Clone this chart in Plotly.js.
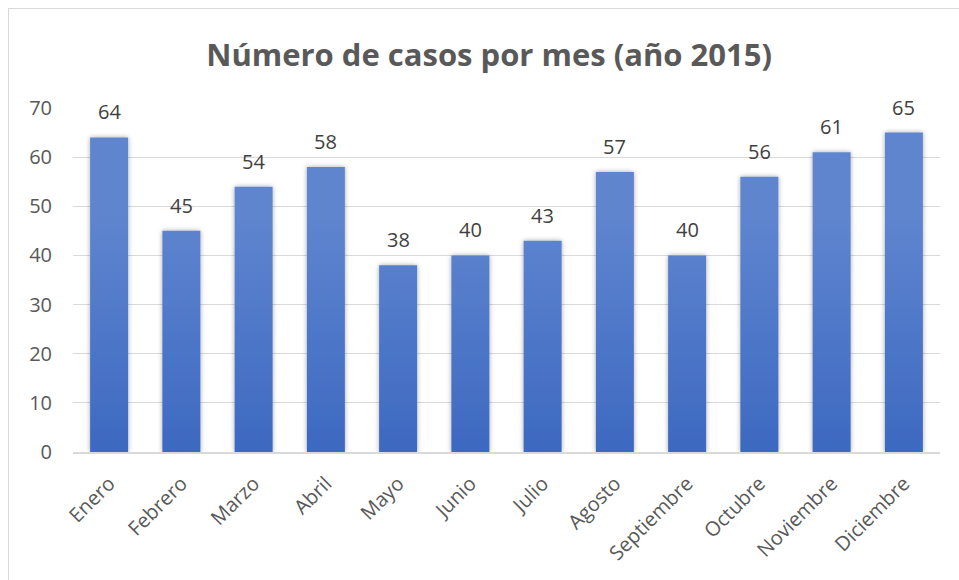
<!DOCTYPE html>
<html>
<head>
<meta charset="utf-8">
<script src="https://cdn.plot.ly/plotly-3.0.1.min.js"></script>
<style>
  html, body { margin: 0; padding: 0; background: #fff; }
  #wrap { position: relative; width: 959px; height: 580px; overflow: hidden; }
  #frame { position: absolute; left: 8px; top: 8px; width: 1000px; height: 700px; border: 1px solid #d9d9d9; box-sizing: border-box; pointer-events: none; }
  #chart { width: 959px; height: 580px; }
</style>
</head>
<body>
<div id="wrap">
  <div id="chart"></div>
  <div id="frame"></div>
</div>
<script>
const months = ["Enero","Febrero","Marzo","Abril","Mayo","Junio","Julio","Agosto","Septiembre","Octubre","Noviembre","Diciembre"];
const cases = [64, 45, 54, 58, 38, 40, 43, 57, 40, 56, 61, 65];
const yTicks = [0, 10, 20, 30, 40, 50, 60, 70];

const labelFont = "'Open Sans', 'Noto Sans', sans-serif";

const trace = {
  type: "bar",
  x: months,
  y: cases,
  marker: { color: "#4472C4", line: { width: 0 } },
  hoverinfo: "x+y"
};

const valueLabels = months.map((m, i) => ({
  x: m, y: cases[i], xref: "x", yref: "y",
  text: String(cases[i]),
  showarrow: false,
  yanchor: "bottom", yshift: 10,
  font: { family: labelFont, size: 20, color: "#404040" }
}));

const layout = {
  width: 959, height: 580,
  margin: { l: 73, r: 19, t: 108, b: 128 },
  paper_bgcolor: "#ffffff",
  plot_bgcolor: "#ffffff",
  bargap: 0.474,
  showlegend: false,
  annotations: valueLabels,
  title: {
    text: "<b>Número de casos por mes (año 2015)</b>",
    x: 0.51, xanchor: "center",
    y: 0.905, yanchor: "middle",
    font: { family: labelFont, size: 31, color: "#595959" }
  },
  xaxis: {
    type: "category",
    tickangle: -45,
    tickfont: { family: labelFont, size: 20, color: "#595959" },
    showgrid: false,
    showline: true, linecolor: "#d9d9d9", linewidth: 2,
    ticks: "", ticklabelstandoff: 10
  },
  yaxis: {
    range: [0, 70],
    tickvals: yTicks,
    ticktext: yTicks.map(String),
    tickfont: { family: labelFont, size: 20, color: "#595959" },
    showgrid: true, gridcolor: "#d9d9d9", gridwidth: 1,
    zeroline: false, showline: false, ticks: "",
    ticklabelstandoff: 20
  }
};

Plotly.newPlot("chart", [trace], layout, { displayModeBar: false, staticPlot: true }).then(gd => {
  const svg = gd.querySelector("svg.main-svg");
  const ns = "http://www.w3.org/2000/svg";
  let defs = svg.querySelector("defs");
  if (!defs) { defs = document.createElementNS(ns, "defs"); svg.insertBefore(defs, svg.firstChild); }
  const grad = document.createElementNS(ns, "linearGradient");
  grad.setAttribute("id", "barGrad");
  grad.setAttribute("gradientUnits", "userSpaceOnUse");
  grad.setAttribute("x1", "0"); grad.setAttribute("y1", "108");
  grad.setAttribute("x2", "0"); grad.setAttribute("y2", "452");
  [["0%", "#5f85cf"], ["100%", "#2d5cba"]].forEach(([o, c]) => {
    const s = document.createElementNS(ns, "stop");
    s.setAttribute("offset", o); s.setAttribute("stop-color", c);
    grad.appendChild(s);
  });
  defs.appendChild(grad);
  const filt = document.createElementNS(ns, "filter");
  filt.setAttribute("id", "barShadow");
  filt.setAttribute("x", "-30%"); filt.setAttribute("y", "-10%");
  filt.setAttribute("width", "160%"); filt.setAttribute("height", "120%");
  filt.innerHTML = '<feGaussianBlur in="SourceAlpha" stdDeviation="2.5"/><feComponentTransfer><feFuncA type="linear" slope="0.35"/></feComponentTransfer><feMerge><feMergeNode/><feMergeNode in="SourceGraphic"/></feMerge>';
  defs.appendChild(filt);
  gd.querySelectorAll(".barlayer .point path").forEach(p => {
    p.style.fill = "url(#barGrad)";
    p.setAttribute("filter", "url(#barShadow)");
  });
});
</script>
</body>
</html>
